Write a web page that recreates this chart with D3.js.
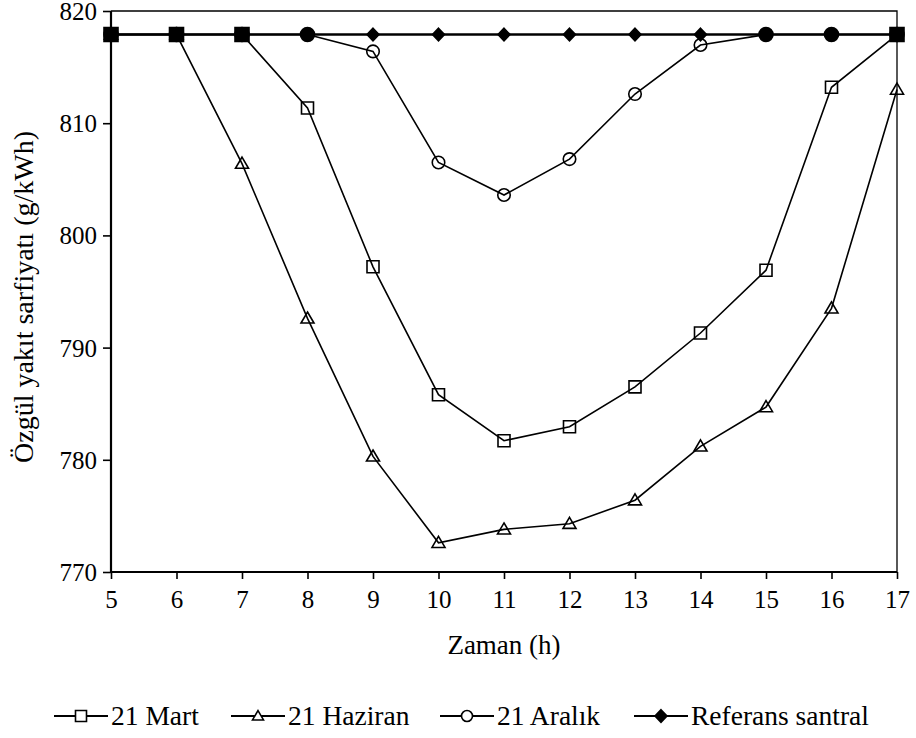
<!DOCTYPE html>
<html>
<head>
<meta charset="utf-8">
<script src="https://cdn.jsdelivr.net/npm/d3@7"></script>
<style>
  html, body { margin: 0; padding: 0; background: #fff; }
  svg { display: block; }
</style>
</head>
<body>
<svg id="chart" width="916" height="738" font-family="Liberation Serif"></svg>
<script>
// Hours of the day (x axis)
const hours = [5, 6, 7, 8, 9, 10, 11, 12, 13, 14, 15, 16, 17];

// Specific fuel consumption (g/kWh) per series
const mart    = [817.9, 817.9, 817.9, 811.35, 797.2, 785.8, 781.7, 782.95, 786.5, 791.3, 796.9, 813.2, 817.9];
const haziran = [817.9, 817.9, 806.4, 792.6, 780.3, 772.6, 773.8, 774.3, 776.4, 781.2, 784.7, 793.5, 813.0];
const aralik  = [817.9, 817.9, 817.9, 817.9, 816.4, 806.5, 803.6, 806.8, 812.6, 816.97, 817.9, 817.9, 817.9];
const referans = [817.9, 817.9, 817.9, 817.9, 817.9, 817.9, 817.9, 817.9, 817.9, 817.9, 817.9, 817.9, 817.9];

const yTicks = [770, 780, 790, 800, 810, 820];
const xTicks = hours;

const seriesNames = ["21 Mart", "21 Haziran", "21 Aralık", "Referans santral"];
const seriesShapes = ["square", "triangle", "circle", "diamond"];

const FONT = "Liberation Serif";

const svg = d3.select("#chart");
const margin = { left: 111, right: 19, top: 11, bottom: 166 };
const W = 916, H = 738;
const x0 = margin.left, x1 = W - margin.right;
const y0 = H - margin.bottom, y1 = margin.top;

const x = d3.scaleLinear().domain([5, 17]).range([x0, x1]);
const y = d3.scaleLinear().domain([770, 820]).range([y0, y1]);

// marker path builder
function markerPath(shape, s) {
  const h = s / 2;
  switch (shape) {
    case "square": return `M${-h},${-h}H${h}V${h}H${-h}Z`;
    case "triangle": {
      const th = s * 0.85;
      return `M0,${-th * 0.58}L${h},${th * 0.42}L${-h},${th * 0.42}Z`;
    }
    case "circle": return `M${h},0A${h},${h} 0 1,1 ${-h},0A${h},${h} 0 1,1 ${h},0Z`;
    case "diamond": return `M0,${-h * 1.05}L${h},0L0,${h * 1.05}L${-h},0Z`;
  }
}

// frame (top and right edges)
svg.append("path")
  .attr("d", `M${x0},${y1}H${x1}V${y0}`)
  .attr("fill", "none").attr("stroke", "#000").attr("stroke-width", 1.3);

// axes
const xAxis = d3.axisBottom(x).tickValues(xTicks).tickSize(7).tickPadding(9).tickFormat(d3.format("d"));
const yAxis = d3.axisLeft(y).tickValues(yTicks).tickSize(8).tickPadding(6).tickFormat(d3.format("d"));

const gx = svg.append("g").attr("transform", `translate(0,${y0})`).call(xAxis);
const gy = svg.append("g").attr("transform", `translate(${x0},0)`).call(yAxis);
[gx, gy].forEach(g => {
  g.attr("font-family", FONT).attr("font-size", 25);
  g.select(".domain").attr("stroke", "#000").attr("stroke-width", 2.2);
  g.selectAll(".tick line").attr("stroke", "#000").attr("stroke-width", 1.6);
  g.selectAll(".tick text").attr("font-family", FONT).attr("font-size", 25).attr("fill", "#000");
});
gx.select(".domain").attr("d", `M${x0},0H${x1}`);
gy.select(".domain").attr("d", `M0,${y0}V${y1}`);
gx.selectAll(".tick text").attr("dy", "0.78em");
gy.selectAll(".tick text").attr("dy", "0.34em");

// axis titles
svg.append("text")
  .attr("x", (x0 + x1) / 2).attr("y", 654)
  .attr("text-anchor", "middle").attr("font-size", 27)
  .attr("font-family", FONT)
  .text("Zaman (h)");
svg.append("text")
  .attr("transform", `translate(33,297) rotate(-90)`)
  .attr("text-anchor", "middle").attr("font-size", 28)
  .attr("font-family", FONT)
  .text("Özgül yakıt sarfiyatı (g/kWh)");

// series: reference first so the scenario markers sit on top
const refVal = referans[0];
const drawOrder = [
  { vals: referans, shape: "diamond", width: 2.4 },
  { vals: aralik, shape: "circle", width: 1.6 },
  { vals: haziran, shape: "triangle", width: 1.6 },
  { vals: mart, shape: "square", width: 1.6 }
];

const line = d3.line().x((d, i) => x(hours[i])).y(d => y(d));

drawOrder.forEach(s => {
  svg.append("path")
    .attr("d", line(s.vals))
    .attr("fill", "none").attr("stroke", "#000").attr("stroke-width", s.width);
});

drawOrder.forEach(s => {
  svg.append("g").selectAll("path")
    .data(s.vals)
    .join("path")
    .attr("transform", (d, i) => `translate(${x(hours[i])},${y(d)})`)
    .attr("d", d => {
      const filled = d === refVal;
      if (s.shape === "diamond") return markerPath("diamond", 12);
      if (s.shape === "circle") return markerPath("circle", filled ? 14 : 12.5);
      if (s.shape === "triangle") return markerPath("triangle", 13);
      return markerPath("square", filled ? 14 : 12);
    })
    .attr("fill", d => d === refVal ? "#000" : "none")
    .attr("stroke", "#000")
    .attr("stroke-width", 1.6);
});

// legend
const legendY = 716;
const legendX = [54, 231, 440, 634];
const legLine = 54;
const leg = svg.append("g");
seriesNames.forEach((name, i) => {
  const g = leg.append("g").attr("transform", `translate(${legendX[i]},${legendY})`);
  g.append("line").attr("x1", 0).attr("x2", legLine).attr("y1", 0).attr("y2", 0)
    .attr("stroke", "#000").attr("stroke-width", 2);
  const shape = seriesShapes[i];
  g.append("path")
    .attr("transform", `translate(${legLine / 2},0)`)
    .attr("d", markerPath(shape, shape === "diamond" ? 12 : 11))
    .attr("fill", shape === "diamond" ? "#000" : "#fff")
    .attr("stroke", "#000").attr("stroke-width", 1.6);
  g.append("text").attr("x", legLine + 3).attr("y", 9).attr("font-size", 27.5)
    .attr("font-family", FONT).text(name);
});
</script>
</body>
</html>
